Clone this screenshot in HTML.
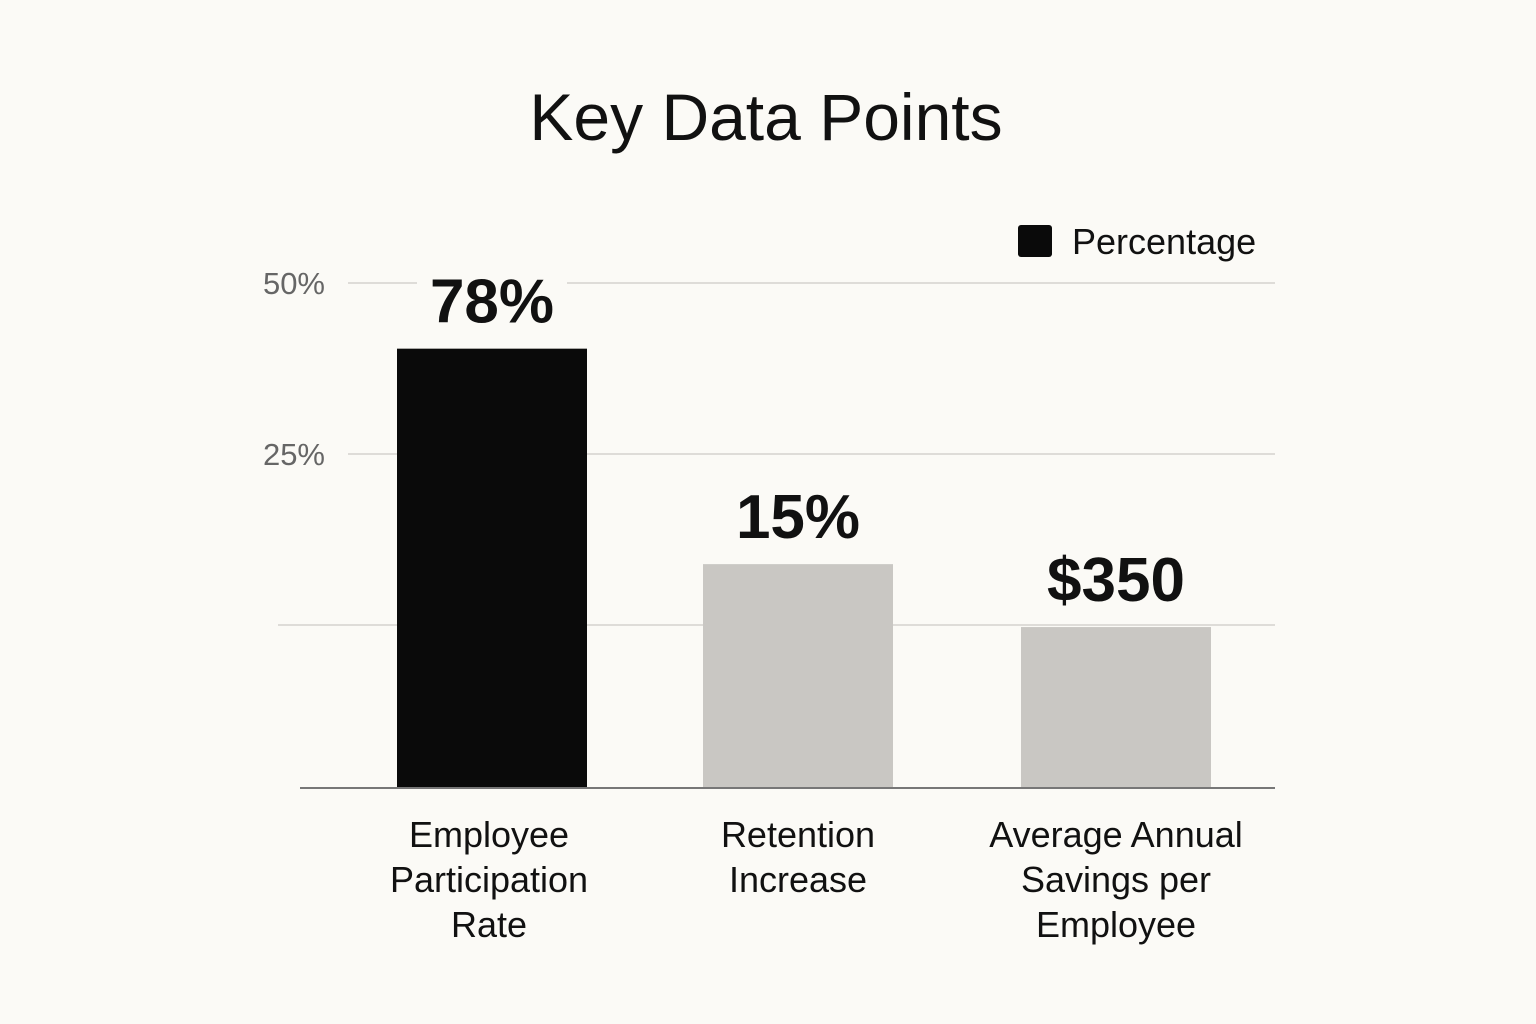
<!DOCTYPE html>
<html><head><meta charset="utf-8"><style>
body{margin:0;background:#fbfaf6;}
svg{display:block;font-family:"Liberation Sans",sans-serif;}
</style></head><body>
<svg id="chart" width="1536" height="1024">
<rect width="1536" height="1024" fill="#fbfaf6"/>
<text x="766" y="140" text-anchor="middle" font-size="66" fill="#111">Key Data Points</text>
<g>
<rect x="1018" y="225" width="34" height="32" rx="3" fill="#0a0a0a"/>
<text x="1072" y="254" font-size="36" fill="#111">Percentage</text>
</g>
<g id="grid"></g><g id="bars"></g><g id="labels"></g>
<line x1="300" y1="788" x2="1275" y2="788" stroke="#777" stroke-width="2"/>
</svg>
<script>
const categories=[["Employee","Participation","Rate"],["Retention","Increase"],["Average Annual","Savings per","Employee"]];
const barValues=[40.4,8.9,-0.3];
const valueLabels=["78%","15%","$350"];
const tickValues=[50,25,0];
const tickLabels=["50%","25%",""];
const barColors=["#0a0a0a","#c9c7c3","#c9c7c3"];
const ns="http://www.w3.org/2000/svg";
const yMin=-23.8;
function y(v){return 625-6.84*v;}
const bandStart=[397,703,1021], bandW=190;
function x(i){return bandStart[i];}
function mk(t,a,p){const e=document.createElementNS(ns,t);for(const k in a)e.setAttribute(k,a[k]);p.appendChild(e);return e;}
const grid=document.getElementById('grid'),bars=document.getElementById('bars'),labels=document.getElementById('labels');
tickValues.forEach((v,i)=>{
 const l=mk('line',{x1:tickLabels[i]?348:278,x2:1275,y1:y(v),y2:y(v),stroke:"#dedcd8","stroke-width":2},grid);
 
 
 if(tickLabels[i]){const t=mk('text',{x:325,y:y(v)+11,"text-anchor":"end","font-size":31,fill:"#666"},grid);t.textContent=tickLabels[i];
 
 }
});
barValues.forEach((v,i)=>{
 const top=y(v),bot=y(yMin);
 const cx=x(i)+bandW/2;
 const bg=mk('rect',{x:cx-75,y:top-95,width:150,height:80,fill:"#fbfaf6"},labels);
 
 
 const r=mk('rect',{x:x(i),y:top,width:bandW,height:bot-top,fill:barColors[i]},bars);
 
 
 const t=mk('text',{x:cx,y:top-26,"text-anchor":"middle","font-size":62,"font-weight":"bold",fill:"#111"},labels);
 t.textContent=valueLabels[i];
 
 
 categories[i].forEach((ln,j)=>{
  const c=mk('text',{x:cx-(i==0?3:0),y:847+j*45,"text-anchor":"middle","font-size":36,fill:"#111"},labels);
  c.textContent=ln;
  
  
 });
});
</script>
</body></html>
